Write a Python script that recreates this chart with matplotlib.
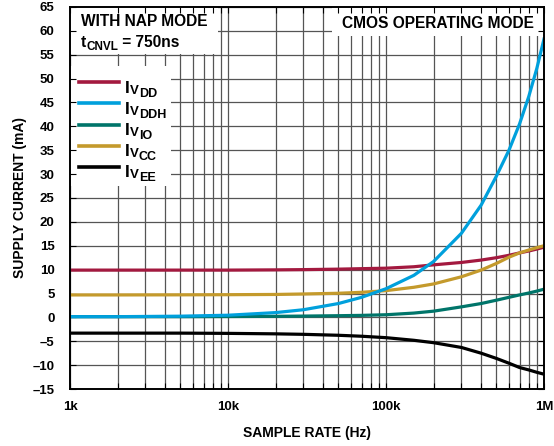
import matplotlib
matplotlib.use("Agg")
import matplotlib.pyplot as plt
from matplotlib.patches import Rectangle
from matplotlib.lines import Line2D

plt.rcParams['font.family'] = ['Liberation Sans', 'DejaVu Sans']
plt.rcParams['font.weight'] = 'bold'

freq = [1e3, 2e3, 5e3, 1e4, 2e4, 3e4, 5e4, 7e4, 1e5, 1.5e5, 2e5, 3e5, 4e5, 5e5, 6e5, 7e5, 8e5, 9e5, 1e6]
i_vdd = [9.9, 9.9, 9.9, 9.9, 9.95, 10.0, 10.1, 10.2, 10.3, 10.6, 11.0, 11.5, 12.0, 12.5, 13.0, 13.5, 13.9, 14.3, 14.7]
i_vddh = [0.15, 0.15, 0.25, 0.45, 1.0, 1.6, 2.9, 4.2, 6.0, 8.8, 11.7, 17.6, 23.5, 29.6, 35.0, 40.5, 46.2, 52.1, 58.3]
i_vio = [0.15, 0.15, 0.15, 0.18, 0.22, 0.27, 0.35, 0.42, 0.55, 0.9, 1.3, 2.2, 2.9, 3.6, 4.2, 4.7, 5.1, 5.5, 5.9]
i_vcc = [4.7, 4.7, 4.72, 4.75, 4.8, 4.9, 5.05, 5.25, 5.6, 6.3, 7.0, 8.5, 9.9, 11.3, 12.6, 13.5, 14.1, 14.6, 15.0]
i_vee = [-3.3, -3.3, -3.3, -3.35, -3.45, -3.55, -3.75, -3.95, -4.25, -4.8, -5.3, -6.3, -7.5, -8.6, -9.6, -10.5, -11.0, -11.5, -11.9]

names = ['I', 'I', 'I', 'I', 'I']
subs = ['DD', 'DDH', 'IO', 'CC', 'EE']
colors = ['#A3193F', '#00A0DC', '#00756A', '#C49A2C', '#000000']
series = [i_vdd, i_vddh, i_vio, i_vcc, i_vee]

xticks = [1e3, 1e4, 1e5, 1e6]
xticklabels = ['1k', '10k', '100k', '1M']
yticks = list(range(-15, 70, 5))
yticklabels = [str(v).replace('-', '\u2013') for v in yticks]

W, H = 554, 446
fig = plt.figure(figsize=(W / 100, H / 100), dpi=100)
ax = fig.add_axes([70 / W, 57 / H, 474 / W, 382 / H])
ax.set_xscale('log')
ax.set_xlim(1e3, 1e6)
ax.set_ylim(-15, 65)

# grid drawn manually below white boxes
grid_kw = dict(color='#555555', lw=0.9, zorder=0.5)
for dec in [1e3, 1e4, 1e5]:
    for m in range(1, 10):
        ax.axvline(dec * m, **grid_kw)
for v in yticks:
    ax.axhline(v, **grid_kw)

order = [0, 3, 2, 4, 1]
for k in order:
    ax.plot(freq, series[k], color=colors[k], lw=2.3, zorder=3)

ax.set_xticks(xticks)
ax.set_xticklabels(xticklabels)
ax.set_yticks(yticks)
ax.set_yticklabels(yticklabels)
ax.tick_params(axis='both', which='both', direction='in', length=4, width=0.8,
               top=True, right=True, labelsize=9.5)
ax.tick_params(axis='y', pad=11)
ax.tick_params(axis='x', pad=9)
for s in ax.spines.values():
    s.set_linewidth(1.4)
    s.set_zorder(4)

ax.set_xlabel('SAMPLE RATE (Hz)', fontsize=10, fontweight='bold')
ax.set_ylabel('SUPPLY CURRENT (mA)', fontsize=10, fontweight='bold')
ax.xaxis.set_label_coords(0.5, (389 - 426) / 382)
ax.yaxis.set_label_coords((27 - 70) / 474, 0.5)


def px_rect(x0, y0, x1, y1):
    r = Rectangle((x0 / W, 1 - y1 / H), (x1 - x0) / W, (y1 - y0) / H, transform=fig.transFigure,
                  facecolor='white', edgecolor='none', zorder=1.5)
    ax.add_patch(r)


px_rect(70, 7, 218, 54)
px_rect(70, 66, 171, 186)
px_rect(332, 7, 544, 36)

fig.canvas.draw()
renderer = fig.canvas.get_renderer()


def seq_text(x, base_y, pieces):
    # pieces: list of (string, fontsize, dy_px)
    for s, fs, dy in pieces:
        t = fig.text(x / W, 1 - (base_y + dy) / H, s, fontsize=fs, fontweight='bold',
                     ha='left', va='baseline', zorder=6)
        bb = t.get_window_extent(renderer=renderer)
        x += bb.width


seq_text(81, 26, [('WITH NAP MODE', 11.2, 0)])
seq_text(81, 47, [('t', 11.2, 0), ('CNVL', 8.5, 3.5), (' = 750ns', 11.2, 0)])
fig.text(534 / W, 1 - 28 / H, 'CMOS OPERATING MODE', fontsize=11.2, fontweight='bold',
         ha='right', va='baseline', zorder=6)

for k in range(5):
    yl = 82.3 + 21.1 * k
    ln = Line2D([79 / W, 119 / W], [1 - yl / H, 1 - yl / H], transform=fig.transFigure,
                color=colors[k], lw=2.6, zorder=6)
    fig.add_artist(ln)
    seq_text(125, yl + 10.5, [(names[k], 12.5, 0), ('V', 9.5, 0.8), (subs[k], 9, 3.8)])

fig.savefig('out.png', dpi=100)
